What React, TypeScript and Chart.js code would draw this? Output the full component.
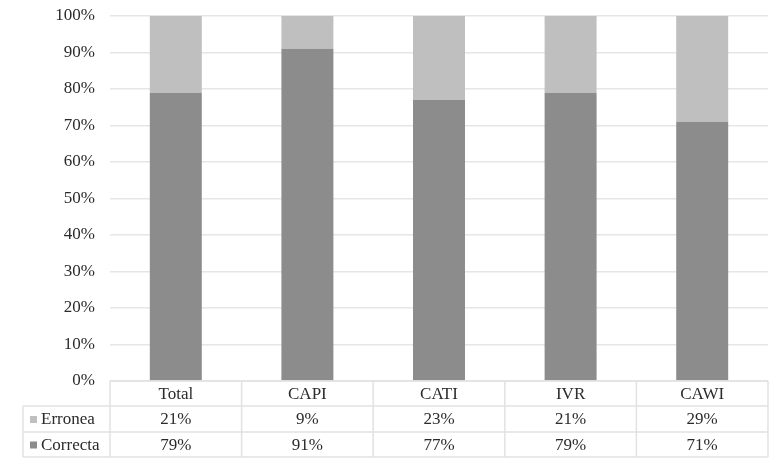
import React, { useEffect, useRef } from "react";
import { Chart, registerables } from "chart.js";

Chart.register(...registerables);

const categories = ["Total", "CAPI", "CATI", "IVR", "CAWI"];
const correcta = [79, 91, 77, 79, 71];
const erronea = [21, 9, 23, 21, 29];
const yTicks = [0, 10, 20, 30, 40, 50, 60, 70, 80, 90, 100];

const COLOR_CORRECTA = "#8c8c8c";
const COLOR_ERRONEA = "#bfbfbf";
const FONT = "'Liberation Serif', 'Times New Roman', serif";
const TEXT = "#2b2b2b";
const LINE = "#e2e2e2";

const tablePlugin = {
  id: "dataTable",
  afterDraw(chart: any) {
    const { ctx, chartArea, scales } = chart;
    const x = scales.x;
    const n = categories.length;
    const colW = chartArea.width / n;
    const top = chartArea.bottom;
    const rowH = [25, 26, 25];
    const y1 = top + rowH[0];
    const y2 = y1 + rowH[1];
    const y3 = y2 + rowH[2];
    const leftCol = 23;
    ctx.save();
    ctx.strokeStyle = LINE;
    ctx.lineWidth = 1.5;
    ctx.beginPath();
    ctx.moveTo(chartArea.left, top);
    ctx.lineTo(chartArea.right, top);
    ctx.moveTo(leftCol, y1);
    ctx.lineTo(chartArea.right, y1);
    ctx.moveTo(leftCol, y2);
    ctx.lineTo(chartArea.right, y2);
    ctx.moveTo(leftCol, y3);
    ctx.lineTo(chartArea.right, y3);
    ctx.moveTo(leftCol, y1);
    ctx.lineTo(leftCol, y3);
    for (let i = 0; i <= n; i++) {
      const cx = i < n ? x.getPixelForValue(i) - colW / 2 : x.getPixelForValue(n - 1) + colW / 2;
      ctx.moveTo(cx, top);
      ctx.lineTo(cx, y3);
    }
    ctx.stroke();

    ctx.fillStyle = TEXT;
    ctx.font = `17px ${FONT}`;
    ctx.textAlign = "center";
    ctx.textBaseline = "middle";
    const rows: [string, number[], string][] = [
      ["Erronea", erronea, COLOR_ERRONEA],
      ["Correcta", correcta, COLOR_CORRECTA],
    ];
    categories.forEach((c, i) => {
      const cx = x.getPixelForValue(i);
      ctx.fillText(c, cx, top + rowH[0] / 2 + 1);
      ctx.fillText(erronea[i] + "%", cx, y1 + rowH[1] / 2 + 1);
      ctx.fillText(correcta[i] + "%", cx, y2 + rowH[2] / 2 + 1);
    });
    const rowMid = [y1 + rowH[1] / 2, y2 + rowH[2] / 2];
    rows.forEach((r, k) => {
      ctx.fillStyle = r[2];
      ctx.fillRect(30, rowMid[k] - 3, 7, 7);
      ctx.fillStyle = TEXT;
      ctx.textAlign = "left";
      ctx.fillText(r[0], 41, rowMid[k] + 1);
    });
    ctx.restore();
  },
};

export default function App() {
  const ref = useRef<HTMLCanvasElement | null>(null);
  useEffect(() => {
    document.body.style.margin = "0";
    const chart = new Chart(ref.current as HTMLCanvasElement, {
      type: "bar",
      data: {
        labels: categories,
        datasets: [
          {
            label: "Correcta",
            data: correcta,
            backgroundColor: COLOR_CORRECTA,
            barPercentage: 0.395,
            categoryPercentage: 1,
          },
          {
            label: "Erronea",
            data: erronea,
            backgroundColor: COLOR_ERRONEA,
            barPercentage: 0.395,
            categoryPercentage: 1,
          },
        ],
      },
      options: {
        animation: false,
        responsive: false,
        layout: { padding: { top: 16, right: 9, bottom: 83, left: 0 } },
        plugins: {
          legend: { display: false },
          tooltip: { enabled: false },
        },
        scales: {
          x: {
            stacked: true,
            display: false,
          },
          y: {
            stacked: true,
            min: 0,
            max: 100,
            afterFit(scale: any) {
              scale.width = 110;
              scale.paddingTop = 0;
              scale.paddingBottom = 0;
            },
            afterBuildTicks(scale: any) {
              scale.ticks = yTicks.map((v) => ({ value: v }));
            },
            border: { display: false },
            grid: { color: "#e6e6e6", lineWidth: 1.5, drawTicks: false },
            ticks: {
              padding: 15,
              color: TEXT,
              font: { family: FONT, size: 17 },
              callback: (v: any) => v + "%",
            },
          },
        },
      },
      plugins: [tablePlugin],
    });
    return () => chart.destroy();
  }, []);
  return <canvas ref={ref} width={777} height={464} style={{ display: "block" }} />;
}
